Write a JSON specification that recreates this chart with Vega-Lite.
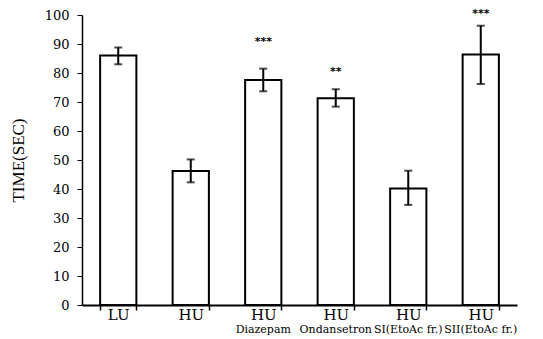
{
  "$schema": "https://vega.github.io/schema/vega-lite/v6.json",
  "autosize": {"type": "none"},
  "padding": {"left": 82, "top": 15, "right": 26, "bottom": 34},
  "width": 435,
  "height": 290,
  "background": "white",
  "config": {
    "view": {"stroke": null},
    "axis": {"domainColor": "black", "tickColor": "black", "labelColor": "black", "titleColor": "black", "grid": false},
    "axisY": {
      "tickCount": 10,
      "labelOverlap": false,
      "labelFont": "DejaVu Serif",
      "labelFontSize": 13,
      "labelPadding": 8,
      "tickSize": 5,
      "tickWidth": 1,
      "domainWidth": 1.5,
      "titleFont": "Liberation Serif",
      "titleFontSize": 17,
      "titleFontWeight": "normal",
      "titlePadding": 17
    }
  },
  "data": {
    "values": [
      {"g": "LU", "sub": "", "mean": 86, "lo": 83, "hi": 88.8, "sig": "", "sig_y": 0},
      {"g": "HU", "sub": "", "mean": 46.2, "lo": 42.3, "hi": 50.2, "sig": "", "sig_y": 0},
      {"g": "HU Diazepam", "sub": "Diazepam", "mean": 77.6, "lo": 73.7, "hi": 81.5, "sig": "***", "sig_y": 89.5},
      {"g": "HU Ondansetron", "sub": "Ondansetron", "mean": 71.3, "lo": 68.4, "hi": 74.4, "sig": "**", "sig_y": 79.4},
      {"g": "HU SI(EtoAc fr.)", "sub": "SI(EtoAc fr.)", "mean": 40.2, "lo": 34.5, "hi": 46.3, "sig": "", "sig_y": 0},
      {"g": "HU SII(EtoAc fr.)", "sub": "SII(EtoAc fr.)", "mean": 86.4, "lo": 76.2, "hi": 96.3, "sig": "***", "sig_y": 99.4}
    ]
  },
  "encoding": {
    "x": {
      "field": "g",
      "type": "nominal",
      "sort": null,
      "scale": {"paddingInner": 0.5, "paddingOuter": 0.25},
      "axis": {
        "title": null,
        "labelAngle": 0,
        "labelExpr": "isValid(datum.value) ? split(datum.value, ' ')[0] : ''",
        "labelFont": "DejaVu Serif",
        "labelFontSize": 15,
        "labelBaseline": "top",
        "labelPadding": -3,
        "tickBand": "extent",
        "tickSize": 5,
        "tickWidth": 1.5,
        "domainWidth": 2
      }
    }
  },
  "layer": [
    {
      "mark": {"type": "bar", "fill": "white", "stroke": "black", "strokeWidth": 2},
      "encoding": {
        "y": {
          "field": "mean",
          "type": "quantitative",
          "scale": {"domain": [0, 100], "nice": false},
          "axis": {"title": "TIME(SEC)"}
        }
      }
    },
    {
      "mark": {"type": "rule", "color": "black", "strokeWidth": 2},
      "encoding": {
        "y": {"field": "lo", "type": "quantitative"},
        "y2": {"field": "hi"}
      }
    },
    {
      "mark": {"type": "tick", "color": "black", "thickness": 2, "size": 8},
      "encoding": {"y": {"field": "lo", "type": "quantitative"}}
    },
    {
      "mark": {"type": "tick", "color": "black", "thickness": 2, "size": 8},
      "encoding": {"y": {"field": "hi", "type": "quantitative"}}
    },
    {
      "mark": {"type": "text", "font": "DejaVu Sans", "fontSize": 11, "fontWeight": "bold", "baseline": "alphabetic", "fill": "black"},
      "encoding": {
        "y": {"field": "sig_y", "type": "quantitative"},
        "text": {"field": "sig"}
      }
    },
    {
      "mark": {"type": "text", "font": "DejaVu Serif", "fontSize": 11, "baseline": "middle", "dy": 25, "fill": "black"},
      "encoding": {
        "y": {"datum": 0},
        "text": {"field": "sub"}
      }
    }
  ]
}
